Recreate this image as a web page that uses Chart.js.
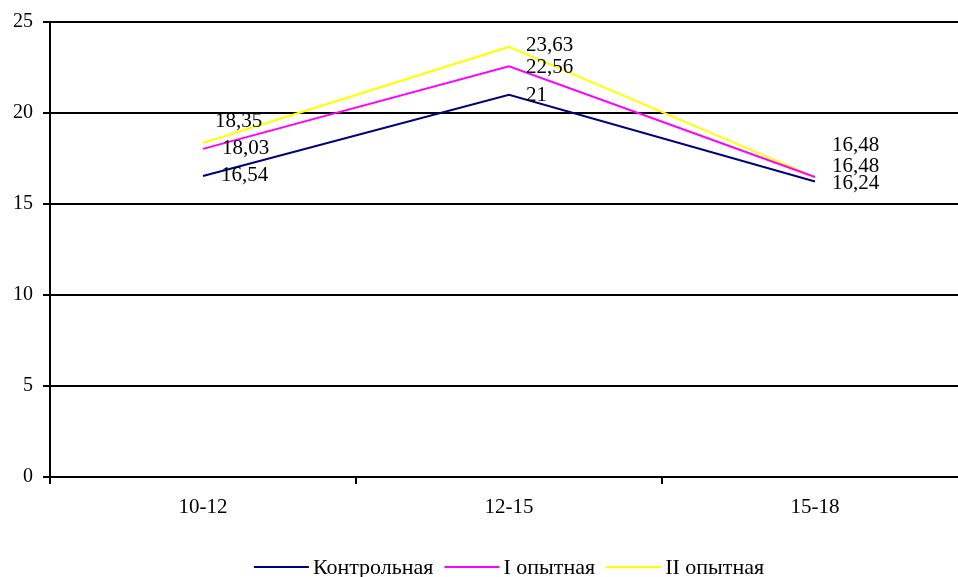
<!DOCTYPE html>
<html>
<head>
<meta charset="utf-8">
<script src="https://cdn.jsdelivr.net/npm/chart.js@4"></script>
<style>
  html, body { margin: 0; padding: 0; background: #fff; overflow: hidden; }
  canvas { display: block; }
</style>
</head>
<body>
<canvas id="ageChart" width="993" height="577"></canvas>
<script>
const ageGroups = ['10-12', '12-15', '15-18'];
const seriesNames = ['Контрольная', 'I опытная', 'II опытная'];
const control = [16.54, 21, 16.24];
const group1 = [18.03, 22.56, 16.48];
const group2 = [18.35, 23.63, 16.48];
const yTicks = [0, 5, 10, 15, 20, 25];

const FONT = '"Liberation Serif", "Times New Roman", serif';

// shifts [dx, dy] for the value labels so they don't overlap
const labelShift = [
    [[18, 0], [17, 1], [17, 2]],     // Контрольная
    [[19, 0], [17, 1], [17, -11]],   // I опытная
    [[12, -22], [17, -1], [17, -32]] // II опытная
];

// value labels next to each point, decimal comma
const valueLabels = {
    id: 'valueLabels',
    afterDatasetsDraw(chart) {
        const ctx = chart.ctx;
        ctx.save();
        ctx.font = '21px ' + FONT;
        ctx.fillStyle = '#000';
        ctx.textAlign = 'left';
        ctx.textBaseline = 'middle';
        chart.data.datasets.forEach((ds, i) => {
            chart.getDatasetMeta(i).data.forEach((pt, j) => {
                const [dx, dy] = labelShift[i][j];
                ctx.fillText(String(ds.data[j]).replace('.', ','), pt.x + dx, pt.y + dy);
            });
        });
        ctx.restore();
    }
};

// legend at the bottom: short line + name, centred under the plot
const bottomLegend = {
    id: 'bottomLegend',
    afterDraw(chart) {
        const ctx = chart.ctx;
        const area = chart.chartArea;
        ctx.save();
        ctx.font = '22px ' + FONT;
        const lineLen = 55, gap = 4, itemGap = 11;
        const items = chart.data.datasets.map(ds => ({
            ds: ds,
            w: lineLen + gap + ctx.measureText(ds.label).width
        }));
        const total = items.reduce((s, it) => s + it.w, 0) + itemGap * (items.length - 1);
        let x = (area.left + area.right) / 2 - total / 2;
        const y = 567;
        items.forEach(it => {
            ctx.strokeStyle = it.ds.borderColor;
            ctx.lineWidth = 2;
            ctx.beginPath();
            ctx.moveTo(x, y);
            ctx.lineTo(x + lineLen, y);
            ctx.stroke();
            ctx.fillStyle = '#000';
            ctx.textAlign = 'left';
            ctx.textBaseline = 'middle';
            ctx.fillText(it.ds.label, x + lineLen + gap, y + 1);
            x += it.w + itemGap;
        });
        ctx.restore();
    }
};

new Chart(document.getElementById('ageChart'), {
    type: 'line',
    data: {
        labels: ageGroups,
        datasets: [
            { label: seriesNames[0], data: control, borderColor: '#000080', backgroundColor: '#000080' },
            { label: seriesNames[1], data: group1, borderColor: '#FF00FF', backgroundColor: '#FF00FF' },
            { label: seriesNames[2], data: group2, borderColor: '#FFFF00', backgroundColor: '#FFFF00' }
        ]
    },
    options: {
        responsive: false,
        animation: false,
        layout: { padding: { top: 19, right: 25, left: 0, bottom: 0 } },
        plugins: {
            legend: { display: false },
            tooltip: { enabled: false }
        },
        elements: {
            point: { radius: 0 },
            line: { borderWidth: 2, tension: 0 }
        },
        scales: {
            x: {
                offset: true,
                grid: { offset: true, drawOnChartArea: false, color: '#000', lineWidth: 2, tickLength: 7 },
                border: { color: '#000', width: 2 },
                ticks: { color: '#000', font: { family: FONT, size: 21 }, padding: 11, maxRotation: 0 },
                afterFit(scale) { scale.height = 100; }
            },
            y: {
                min: 0,
                max: 25,
                afterBuildTicks(scale) {
                    scale.ticks = yTicks.map(v => ({ value: v }));
                },
                grid: { color: '#000', lineWidth: 2, tickLength: 7 },
                border: { color: '#000', width: 2 },
                ticks: { color: '#000', font: { family: FONT, size: 20 }, padding: 10 },
                afterFit(scale) { scale.width = 50; }
            }
        }
    },
    plugins: [valueLabels, bottomLegend]
});
</script>
</body>
</html>
